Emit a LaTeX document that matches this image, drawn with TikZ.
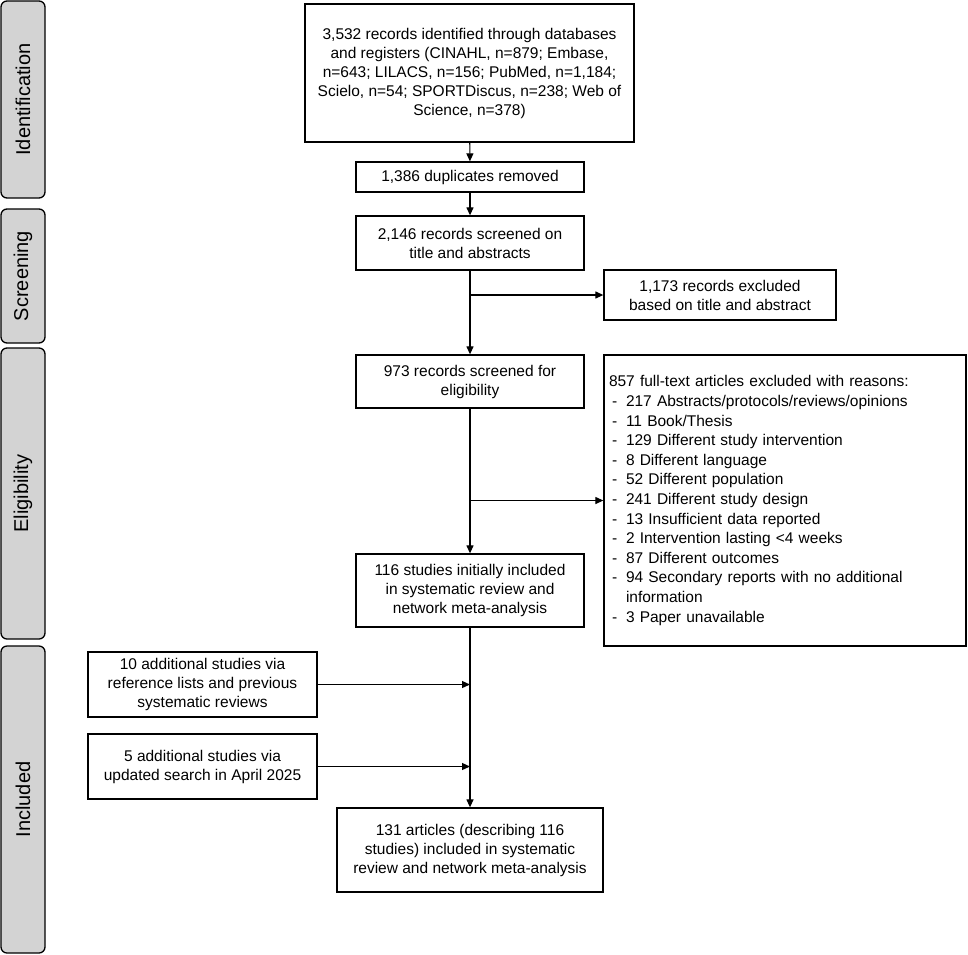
\documentclass[tikz,border=0pt]{standalone}
\usepackage{fontspec}
\setmainfont{Liberation Sans}
\usepackage{tikz}
\usetikzlibrary{arrows.meta}

\definecolor{phasegray}{RGB}{211,211,211}
\newcommand{\xdash}{\makebox[17pt][l]{\hspace{3pt}-}}

\tikzset{
	box/.style={draw, line width=1.3pt, align=center, inner sep=0pt,
		font=\fontsize{15.5}{19}\selectfont},
	phase/.style={draw, line width=1.3pt, fill=phasegray, rounded corners=6pt,
		rotate=90, minimum height=44pt, inner sep=0pt,
		font=\fontsize{20}{24}\selectfont},
	flow/.style={line width=1.2pt, -{Triangle[length=8pt, width=7pt]}},
	line/.style={line width=1.2pt}
}

\begin{document}
\begin{tikzpicture}[x=1pt, y=-1pt]
	\useasboundingbox (0, 0) rectangle (968, 954);

	\node[phase, minimum width=197pt] (pident) at (23, 99.5) {Identification};
	\node[phase, minimum width=134pt] (pscreen) at (23, 276) {Screening};
	\node[phase, minimum width=291pt] (pelig) at (23, 493.5) {Eligibility};
	\node[phase, minimum width=307pt] (pincl) at (23, 799.5) {Included};

	\node[box, minimum width=329pt, minimum height=138pt] (ident) at (469.5, 73)
		{3,532 records identified through databases\\and registers (CINAHL, n=879; Embase,\\n=643; LILACS, n=156; PubMed, n=1,184;\\Scielo, n=54; SPORTDiscus, n=238; Web of\\Science, n=378)};
	\node[box, minimum width=228pt, minimum height=30pt] (dup) at (470, 177) {1,386 duplicates removed};
	\node[box, minimum width=228pt, minimum height=54pt] (screen) at (470, 243) {2,146 records screened on\\title and abstracts};
	\node[box, minimum width=232pt, minimum height=50pt] (excla) at (720, 295) {1,173 records excluded\\based on title and abstract};
	\node[box, minimum width=228pt, minimum height=53pt] (elig) at (470, 381.5) {973 records screened for\\eligibility};
	\node[box, minimum width=362pt, minimum height=291pt, align=left, text width=352pt, inner xsep=5pt,
		font=\fontsize{15.5}{19.6}\selectfont] (exclb) at (785, 500.5)
		{857 full-text articles excluded with reasons:\\
		\xdash 217 Abstracts/protocols/reviews/opinions\\
		\xdash 11 Book/Thesis\\
		\xdash 129 Different study intervention\\
		\xdash 8 Different language\\
		\xdash 52 Different population\\
		\xdash 241 Different study design\\
		\xdash 13 Insufficient data reported\\
		\xdash 2 Intervention lasting <4 weeks\\
		\xdash 87 Different outcomes\\
		\xdash 94 Secondary reports with no additional\\
		\hspace*{17pt}information\\
		\xdash 3 Paper unavailable};
	\node[box, minimum width=228pt, minimum height=73pt] (incl) at (470, 590.5) {116 studies initially included\\in systematic review and\\network meta-analysis};
	\node[box, minimum width=229pt, minimum height=65pt] (adda) at (202.5, 684.5) {10 additional studies via\\reference lists and previous\\systematic reviews};
	\node[box, minimum width=229pt, minimum height=65pt] (addb) at (202.5, 766.5) {5 additional studies via\\updated search in April 2025};
	\node[box, minimum width=266pt, minimum height=84pt] (final) at (470, 850) {131 articles (describing 116\\studies) included in systematic\\review and network meta-analysis};

	\draw[flow] (ident) -- (dup);
	\draw[flow] (dup) -- (screen);
	\draw[flow] (screen) -- (elig);
	\draw[flow] (screen.south |- excla.west) -- (excla.west);
	\draw[flow] (elig) -- (incl);
	\draw[flow] (elig.south |- exclb.west) -- (exclb.west);
	\draw[flow] (incl) -- (final);
	\draw[flow] (adda.east) -- (adda.east -| incl.south);
	\draw[flow] (addb.east) -- (addb.east -| incl.south);
\end{tikzpicture}
\end{document}
